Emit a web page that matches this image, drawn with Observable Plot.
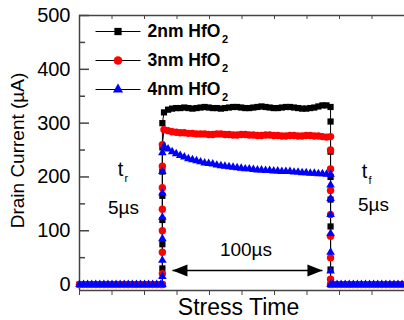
<!DOCTYPE html>
<html><head><meta charset="utf-8">
<script src="https://cdn.jsdelivr.net/npm/d3@7"></script>
<script src="https://cdn.jsdelivr.net/npm/@observablehq/plot@0.6"></script>
<style>
body{margin:0;background:#fff}
</style>
</head><body><div id="chart"></div>
<script>
// ---- data (time in µs-like units, current in µA) ----
const seriesNames = ["2nm HfO", "3nm HfO", "4nm HfO"];
const seriesColors = ["#000000", "#ff0000", "#0000ff"];
const seriesSymbols = ["square", "circle", "triangle"];
const yTicks = [0, 100, 200, 300, 400, 500];
const yMinor = [50, 150, 250, 350, 450];
const xTicks = [0, 20, 40, 60, 80, 100, 120, 140, 160, 180, 200];

const tBefore = d3.range(0, 50.1, 2.5);   // 21 samples
const tRise = 51;
const tPulse = d3.range(52, 152.1, 2.5);  // 41 samples
const tFall = 154.5;
const tAfter = d3.range(156, 200.1, 2.5); // 18 samples

const zeros21 = [0,0,0,0,0,0,0,0,0,0,0,0,0,0,0,0,0,0,0,0,0];
const zeros18 = [0,0,0,0,0,0,0,0,0,0,0,0,0,0,0,0,0,0];

const blackRise = [0, 30, 75, 120, 165, 210, 255, 300];
const blackPulse = [320,325,327,328,328,329,328,327,328,329,330,329,328,328,327,328,329,330,330,329,328,328,329,330,331,330,329,328,328,329,330,330,329,328,327,327,328,329,331,333,333];
const blackFall = [330, 303, 247, 200, 158, 108, 28, 0];

const redRise = [0, 20, 60, 100, 140, 180, 220, 260];
const redPulse = [288,286,284,283,282,282,281,281,280,280,280,279,279,280,280,279,279,278,278,279,279,278,278,277,277,278,278,277,277,276,276,277,277,276,276,277,277,276,276,275,274];
const redFall = [275, 250, 215, 175, 130, 90, 50, 10, 0];

const blueRise = [0, 15, 45, 85, 125, 170, 210, 245];
const bluePulse = [257,252,247,243,240,237,234,232,230,228,226,225,224,222,221,220,219,218,217,216,215,215,214,213,213,212,212,211,211,210,210,210,209,209,208,208,207,207,206,206,205];
const blueFall = [205, 185, 160, 130, 95, 60, 25, 0];

function rows(name, rise, pulse, fall) {
  return [
    ...tBefore.map((t, i) => ({name, t, v: zeros21[i]})),
    ...rise.map(v => ({name, t: tRise, v})),
    ...tPulse.map((t, i) => ({name, t, v: pulse[i]})),
    ...fall.map(v => ({name, t: tFall, v})),
    ...tAfter.map((t, i) => ({name, t, v: zeros18[i]}))
  ];
}
const data = [
  rows(seriesNames[0], blackRise, blackPulse, blackFall),
  rows(seriesNames[1], redRise, redPulse, redFall),
  rows(seriesNames[2], blueRise, bluePulse, blueFall)
];

// annotation arrow span (time units) and level
const arrowSpan = [{t1: 57.2, t2: 149.5, v: 26}];

const font = "Liberation Sans, Arial, sans-serif";
const symR = [3.5, 3.7, 3.2];

const lineSym = {draw(ctx) { ctx.moveTo(-22.5, 0); ctx.lineTo(22.5, 0); }};
const headLeft = {draw(ctx) { ctx.moveTo(0, 0); ctx.lineTo(15, -6); ctx.lineTo(15, 6); ctx.closePath(); }};
const headRight = {draw(ctx) { ctx.moveTo(0, 0); ctx.lineTo(-15, -6); ctx.lineTo(-15, 6); ctx.closePath(); }};

const T = {text: d => d, textAnchor: "middle", lineAnchor: "middle", fill: "#000"};

const marks = [
  // axes
  Plot.ruleX([0], {stroke: "#444", strokeWidth: 1.5}),
  Plot.ruleY([500], {stroke: "#444", strokeWidth: 1.5}),
  Plot.ruleY([-11], {stroke: "#444", strokeWidth: 1.5}),
  Plot.axisY({ticks: yTicks, tickSize: 0, tickPadding: 9, fontSize: 20, label: null}),
  Plot.axisY({ticks: yTicks, tickSize: -10, tickFormat: () => "", label: null, stroke: "#444", strokeWidth: 1.5}),
  Plot.axisY({ticks: yMinor, tickSize: -6, tickFormat: () => "", label: null, stroke: "#444", strokeWidth: 1.5}),
  Plot.axisX({anchor: "bottom", ticks: xTicks, tickSize: 5, tickFormat: () => "", label: null, stroke: "#444"}),
  Plot.axisX({anchor: "top", ticks: xTicks, tickSize: -3, tickFormat: () => "", label: null, stroke: "#444"}),
  // series lines
  ...data.map(d => Plot.line(d, {x: "t", y: "v", stroke: "#000", strokeWidth: 1})),
  // series markers
  ...data.map((d, i) => Plot.dot(d, {x: "t", y: "v", symbol: seriesSymbols[i], r: symR[i], fill: seriesColors[i], stroke: "none"})),
  // arrow
  Plot.link(arrowSpan, {x1: "t1", x2: "t2", y1: "v", y2: "v", stroke: "#000", strokeWidth: 1.5}),
  Plot.dot(arrowSpan, {x: "t1", y: "v", symbol: headLeft, fill: "#000", stroke: "none"}),
  Plot.dot(arrowSpan, {x: "t2", y: "v", symbol: headRight, fill: "#000", stroke: "none"}),
  // legend
  ...seriesNames.map((n, i) => Plot.dot([n], {frameAnchor: "top-left", dx: 38.5, dy: 16 + 29 * i, symbol: lineSym, stroke: "#000", fill: "none", strokeWidth: 1})),
  ...seriesNames.map((n, i) => Plot.dot([n], {frameAnchor: "top-left", dx: 38.5, dy: 16 + 29 * i, symbol: seriesSymbols[i], r: symR[i] + 0.6, fill: seriesColors[i], stroke: "none"})),
  ...seriesNames.map((n, i) => Plot.text([n], {...T, frameAnchor: "top-left", dx: 68, dy: 16 + 29 * i, textAnchor: "start", fontSize: 17.5, fontWeight: "bold"})),
  ...seriesNames.map((n, i) => Plot.text(["2"], {...T, frameAnchor: "top-left", dx: 142.5, dy: 23.5 + 29 * i, textAnchor: "start", fontSize: 11, fontWeight: "bold"})),
  // annotations
  Plot.text(["t"], {...T, frameAnchor: "top-left", dx: 41, dy: 154, fontSize: 20}),
  Plot.text(["r"], {...T, frameAnchor: "top-left", dx: 45, dy: 162.5, fontSize: 11, textAnchor: "start"}),
  Plot.text(["5\u00b5s"], {...T, frameAnchor: "top-left", dx: 44, dy: 192, fontSize: 19}),
  Plot.text(["t"], {...T, frameAnchor: "top-left", dx: 285, dy: 156, fontSize: 20}),
  Plot.text(["f"], {...T, frameAnchor: "top-left", dx: 289, dy: 164.5, fontSize: 11, textAnchor: "start"}),
  Plot.text(["5\u00b5s"], {...T, frameAnchor: "top-left", dx: 294, dy: 189, fontSize: 19}),
  Plot.text(["100\u00b5s"], {...T, frameAnchor: "top-left", dx: 166.5, dy: 234, fontSize: 19}),
  // axis titles
  Plot.text(["Drain Current (\u00b5A)"], {...T, frameAnchor: "left", dx: -62, dy: -2.5, rotate: -90, fontSize: 19}),
  Plot.text(["Stress Time"], {...T, frameAnchor: "bottom", dx: -3.5, dy: 17, fontSize: 23})
];

const chart = Plot.plot({
  width: 404, height: 320,
  marginLeft: 79, marginRight: 0, marginTop: 15, marginBottom: 30,
  style: {fontFamily: font, background: "#fff", color: "#000", overflow: "visible"},
  x: {domain: [0, 200], axis: null, label: null},
  y: {domain: [-11, 500], axis: null, label: null},
  marks
});
document.getElementById("chart").appendChild(chart);
</script>
</body></html>
